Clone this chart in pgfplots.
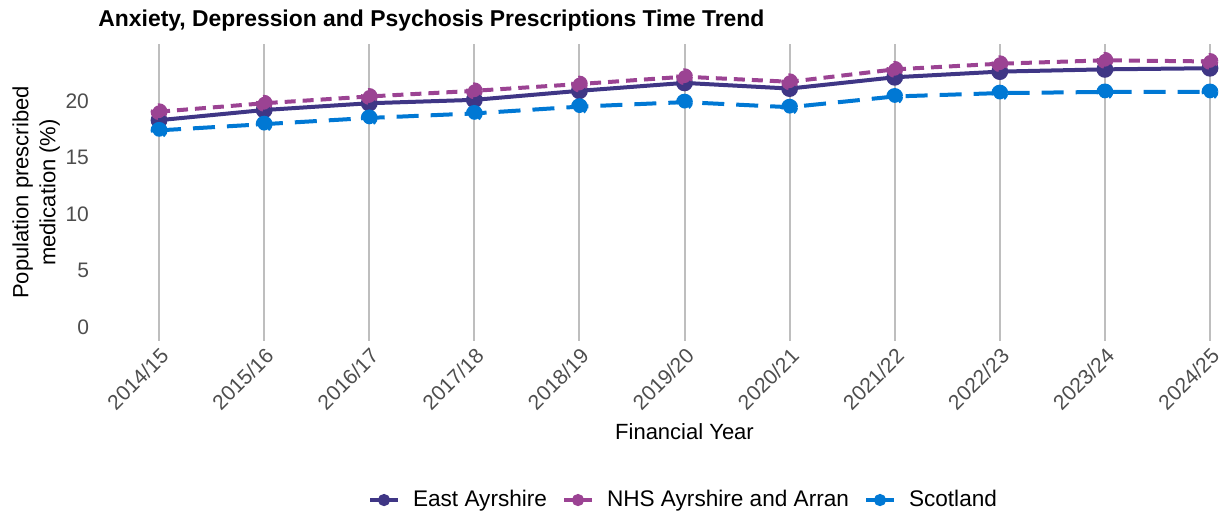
\documentclass[border=0pt]{standalone}
\usepackage{fontspec}
\setmainfont{Liberation Sans}
\usepackage{pgfplots}
\pgfplotsset{compat=1.18}
\usetikzlibrary{calc}

\definecolor{eastayr}{HTML}{3F3685}
\definecolor{nhsaa}{HTML}{9B4393}
\definecolor{scot}{HTML}{0078D4}
\definecolor{gridgrey}{HTML}{BEBEBE}
\definecolor{tickgrey}{HTML}{4D4D4D}

\begin{document}
\begin{tikzpicture}
\begin{axis}[name=ax,
  scale only axis, width=588.5pt, height=148pt,
  xmin=-0.6, xmax=10.6, ymin=-1.2, ymax=25,
  axis line style={draw=none}, major tick length=0pt,
  xtick={0,...,10},
  xticklabels={2014/15,2015/16,2016/17,2017/18,2018/19,2019/20,2020/21,2021/22,2022/23,2023/24,2024/25},
  ytick={0,5,10,15,20},
  /pgf/number format/assume math mode=true,
  tick label style={font=\fontsize{10.5}{12}\selectfont, text=tickgrey},
  x tick label style={rotate=45, anchor=north east, inner sep=2pt},
  xmajorgrids, ymajorgrids=false,
  major x grid style={gridgrey, line width=1pt},
  xlabel={Financial Year},
  ylabel={Population prescribed\\medication (\%)},
  label style={font=\fontsize{11}{13.5}\selectfont},
  ylabel style={align=center, at={($(rel axis cs:0,0.5)+(-14.5pt,0)$)}, anchor=south},
  every axis plot/.append style={line width=2pt, mark=*, mark size=3.2pt},
  legend style={font=\fontsize{11.3}{12}\selectfont, draw=none, fill=none,
    at={(0.5,-0.539)}, anchor=center, legend columns=-1,
    /tikz/every odd column/.append style={column sep=4.5pt},
    /tikz/every even column/.append style={column sep=5.5pt}},
  legend image code/.code={\draw[#1,solid,line width=2pt,mark size=2pt,mark repeat=2,mark phase=2]
    plot coordinates {(0pt,0pt)(7pt,0pt)(14pt,0pt)};},
]
\addplot[color=eastayr, solid] coordinates {
  (0,18.3) (1,19.2) (2,19.8) (3,20.1) (4,20.9) (5,21.6)
  (6,21.1) (7,22.1) (8,22.6) (9,22.8) (10,22.9)
};
\addlegendentry{East Ayrshire}
\addplot[color=nhsaa, dash pattern=on 5.5pt off 3.5pt] coordinates {
  (0,19.05) (1,19.8) (2,20.4) (3,20.9) (4,21.5) (5,22.15)
  (6,21.7) (7,22.8) (8,23.3) (9,23.6) (10,23.5)
};
\addlegendentry{NHS Ayrshire and Arran}
\addplot[color=scot, dash pattern=on 11pt off 6pt] coordinates {
  (0,17.4) (1,17.95) (2,18.5) (3,18.9) (4,19.5) (5,19.9)
  (6,19.45) (7,20.4) (8,20.7) (9,20.8) (10,20.8)
};
\addlegendentry{Scotland}
\end{axis}
\node[anchor=base west, inner sep=0pt, font=\bfseries\fontsize{11.45}{13}\selectfont]
  at ($(ax.north west)+(1pt,9pt)$) {Anxiety, Depression and Psychosis Prescriptions Time Trend};
\pgfresetboundingbox
\path ($(ax.south west)+(-48pt,-88.7pt)$) rectangle ($(ax.south west)+(566.5pt,170.25pt)$);
\end{tikzpicture}
\end{document}
